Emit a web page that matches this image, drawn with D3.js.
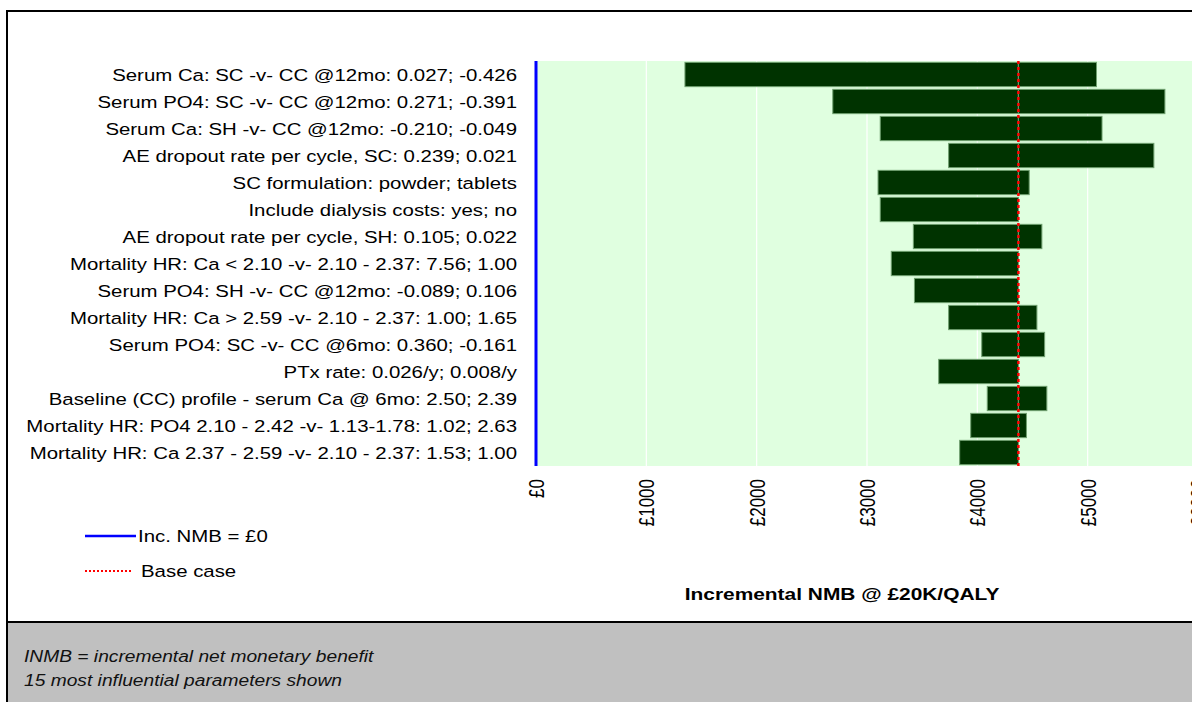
<!DOCTYPE html>
<html>
<head>
<meta charset="utf-8">
<script src="https://cdn.jsdelivr.net/npm/d3@7"></script>
<style>
  body { margin: 0; background: #fff; }
  text { font-family: "Liberation Sans", Arial, sans-serif; }
</style>
</head>
<body>
<div id="chart"></div>
<script>
// parameters, top to bottom
const params = [
  "Serum Ca: SC -v- CC @12mo: 0.027; -0.426",
  "Serum PO4: SC -v- CC @12mo: 0.271; -0.391",
  "Serum Ca: SH -v- CC @12mo: -0.210; -0.049",
  "AE dropout rate per cycle, SC: 0.239; 0.021",
  "SC formulation: powder; tablets",
  "Include dialysis costs: yes; no",
  "AE dropout rate per cycle, SH: 0.105; 0.022",
  "Mortality HR: Ca < 2.10 -v- 2.10 - 2.37: 7.56; 1.00",
  "Serum PO4: SH -v- CC @12mo: -0.089; 0.106",
  "Mortality HR: Ca > 2.59 -v- 2.10 - 2.37: 1.00; 1.65",
  "Serum PO4: SC -v- CC @6mo: 0.360; -0.161",
  "PTx rate: 0.026/y; 0.008/y",
  "Baseline (CC) profile - serum Ca @ 6mo: 2.50; 2.39",
  "Mortality HR: PO4 2.10 - 2.42 -v- 1.13-1.78: 1.02; 2.63",
  "Mortality HR: Ca 2.37 - 2.59 -v- 2.10 - 2.37: 1.53; 1.00"
];
// INMB at the low / high end of each parameter range
const lowNMB  = [1350, 2690, 3120, 3740, 3100, 3120, 3420, 3220, 3430, 3740, 4040, 3650, 4090, 3940, 3840];
const highNMB = [5080, 5700, 5130, 5600, 4470, 4372, 4585, 4372, 4372, 4540, 4610, 4372, 4630, 4445, 4372];
const baseCase = 4372;
const tickValues = [0, 1000, 2000, 3000, 4000, 5000, 6000];

const W = 1192, H = 702;
const sx = 1.2; // text in the original is drawn a bit wide
const svg = d3.select("#chart").append("svg")
  .attr("width", W).attr("height", H);

// outer frame
svg.append("rect")
  .attr("x", 7).attr("y", 11).attr("width", W).attr("height", H)
  .attr("fill", "#fff").attr("stroke", "#000").attr("stroke-width", 2);

// footer box
svg.append("rect")
  .attr("x", 7).attr("y", 622).attr("width", W).attr("height", 100)
  .attr("fill", "#c0c0c0").attr("stroke", "#000").attr("stroke-width", 2);
const notes = ["INMB = incremental net monetary benefit", "15 most influential parameters shown"];
svg.append("g").selectAll("text")
  .data(notes)
  .join("text")
  .attr("transform", (d, i) => `translate(24,${662 + i * 24}) scale(1.13,1)`)
  .attr("font-size", 17).attr("font-style", "italic").attr("fill", "#111")
  .text(d => d);

const plot = { left: 536, top: 61, bottom: 466 };
const x = d3.scaleLinear().domain([0, 6000]).range([plot.left, plot.left + 662]);
const y = d3.scaleBand().domain(params).range([plot.top, plot.bottom]).paddingInner(0.1).paddingOuter(0.05);

// plot background
svg.append("rect")
  .attr("x", plot.left).attr("y", plot.top)
  .attr("width", W - plot.left).attr("height", plot.bottom - plot.top)
  .attr("fill", "#e0ffe0");

// white gridlines
svg.append("g").selectAll("line")
  .data(tickValues.slice(1))
  .join("line")
  .attr("x1", d => x(d)).attr("x2", d => x(d))
  .attr("y1", plot.top).attr("y2", plot.bottom)
  .attr("stroke", "#fff").attr("stroke-width", 1.2);

// bars: base case to low end, base case to high end
const segs = [];
params.forEach((p, i) => {
  segs.push({ p: p, a: lowNMB[i], b: baseCase });
  segs.push({ p: p, a: baseCase, b: highNMB[i] });
});
svg.append("g").selectAll("rect")
  .data(segs.filter(s => s.b > s.a))
  .join("rect")
  .attr("x", d => x(d.a))
  .attr("width", d => x(d.b) - x(d.a))
  .attr("y", d => y(d.p))
  .attr("height", y.bandwidth())
  .attr("fill", "#003300")
  .attr("stroke", "#6f9f6f").attr("stroke-width", 1);

// zero line
svg.append("line")
  .attr("x1", x(0)).attr("x2", x(0))
  .attr("y1", plot.top).attr("y2", plot.bottom)
  .attr("stroke", "#0000ff").attr("stroke-width", 3);

// base case line
svg.append("line")
  .attr("x1", x(baseCase)).attr("x2", x(baseCase))
  .attr("y1", plot.top).attr("y2", plot.bottom)
  .attr("stroke", "#ff0000").attr("stroke-width", 2.5)
  .attr("stroke-dasharray", "3,3");

// parameter labels
svg.append("g").selectAll("text")
  .data(params)
  .join("text")
  .attr("transform", d => `translate(517,${y(d) + y.bandwidth() / 2}) scale(${sx},1)`)
  .attr("dy", "0.36em")
  .attr("text-anchor", "end")
  .attr("font-size", 17)
  .attr("fill", "#000")
  .text(d => d);

// x tick labels, rotated
const fmt = d => "£" + d;
svg.append("g").selectAll("text")
  .data(tickValues)
  .join("text")
  .attr("transform", d => `translate(${x(d) + 8},479) scale(1.3,1) rotate(-90)`)
  .attr("text-anchor", "end")
  .attr("font-size", 17)
  .attr("fill", "#000")
  .text(fmt);

svg.append("text")
  .attr("transform", `translate(842,600) scale(1.23,1)`)
  .attr("text-anchor", "middle")
  .attr("font-size", 17).attr("font-weight", "bold")
  .text("Incremental NMB @ £20K/QALY");

// legend
const legend = svg.append("g");
legend.append("line").attr("x1", 85).attr("x2", 136).attr("y1", 536).attr("y2", 536)
  .attr("stroke", "#0000ff").attr("stroke-width", 2.5);
legend.append("text").attr("transform", `translate(138,536) scale(${sx},1)`).attr("dy", "0.36em")
  .attr("font-size", 17).text("Inc. NMB = £0");
legend.append("line").attr("x1", 85).attr("x2", 133).attr("y1", 571).attr("y2", 571)
  .attr("stroke", "#ff0000").attr("stroke-width", 2).attr("stroke-dasharray", "2,2");
legend.append("text").attr("transform", `translate(141,571) scale(${sx},1)`).attr("dy", "0.36em")
  .attr("font-size", 17).text("Base case");
</script>
</body>
</html>
